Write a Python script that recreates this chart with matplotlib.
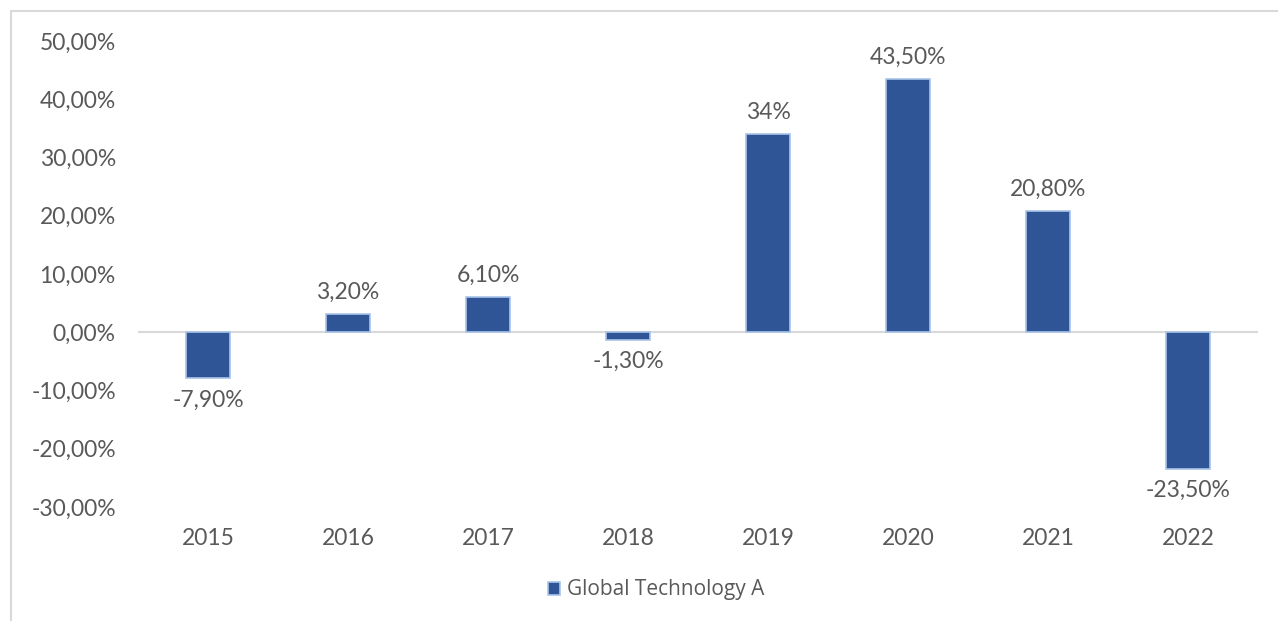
import matplotlib.pyplot as plt
import matplotlib.patches as patches
import numpy as np

years = ['2015', '2016', '2017', '2018', '2019', '2020', '2021', '2022']
values = [-7.9, 3.2, 6.1, -1.3, 34.0, 43.5, 20.8, -23.5]
labels = ['-7,90%', '3,20%', '6,10%', '-1,30%', '34%', '43,50%', '20,80%', '-23,50%']
yticks = [-30, -20, -10, 0, 10, 20, 30, 40, 50]
series_name = 'Global Technology A'

W, H = 1278, 621
fig = plt.figure(figsize=(W/100, H/100), dpi=100)
ax = fig.add_axes([138/W, 1-507/H, 1120/W, (507-41)/H])

# outer frame (right and bottom cut off as in the reference)
fig.patches.append(patches.Rectangle((11/W, -0.1), 1.2, 1-11/H+0.1, transform=fig.transFigure,
                                     fill=False, edgecolor='#D9D9D9', linewidth=1.5))

font = 'Lato'
grey = '#595959'
fs = 16.5
x = np.arange(len(years))
bars = ax.bar(x, values, width=0.31, color='#2F5597', edgecolor='#A9C4EB', linewidth=1.2,
              label=series_name, zorder=3)
ax.axhline(0, color='#D9D9D9', linewidth=1.5, zorder=2)

for xi, v, lab in zip(x, values, labels):
    if v >= 0:
        ax.annotate(lab, (xi, v), xytext=(0, 8), textcoords='offset points', ha='center', va='bottom',
                    fontsize=fs, color=grey, family=font)
    else:
        ax.annotate(lab, (xi, v), xytext=(0, -8), textcoords='offset points', ha='center', va='top',
                    fontsize=fs, color=grey, family=font)

ax.set_xlim(-0.5, len(years)-0.5)
ax.set_ylim(-30, 50)
ax.set_yticks(yticks)
ax.set_yticklabels(['%d,00%%' % t for t in yticks], fontsize=fs, color=grey, family=font)
ax.set_xticks(x)
ax.set_xticklabels(years, fontsize=fs, color=grey, family=font)
ax.tick_params(length=0)
ax.tick_params(axis='y', pad=16)
ax.tick_params(axis='x', pad=15)
for s in ax.spines.values():
    s.set_visible(False)

leg = fig.legend(handles=[bars], labels=[series_name], loc='center', bbox_to_anchor=(656/W, 1-590/H),
                 frameon=False, handlelength=0.6, handleheight=0.6, handletextpad=0.3,
                 prop={'family': 'Open Sans', 'size': 15})
for t in leg.get_texts():
    t.set_color(grey)

fig.savefig('out.png', dpi=100)
